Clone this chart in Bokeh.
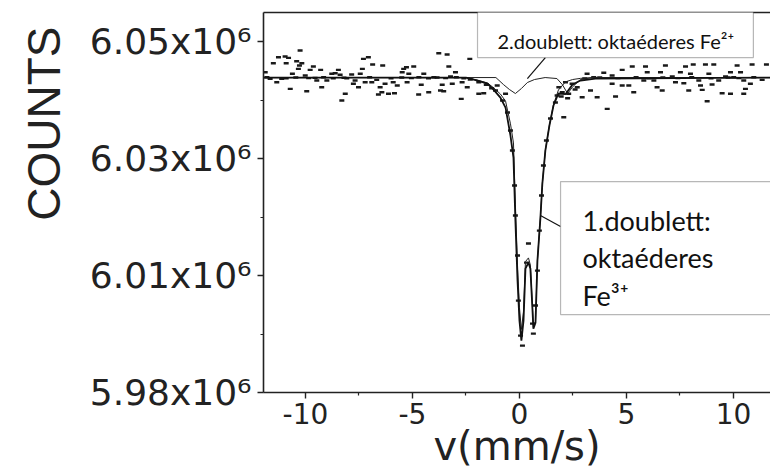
from bokeh.plotting import figure
from bokeh.models import Range1d, FixedTicker, LinearAxis, BoxAnnotation, Label, Title
from bokeh.embed import file_html
from bokeh.resources import INLINE

# ---- measured spectrum points (velocity mm/s, counts) ----
data_v = [
    -10.25, -11.26, -10.95, -10.79, -11.50, -10.90, -10.41, -10.28, -10.17, -10.33,
    -9.63, -9.78, -9.29, -8.46, -8.77, -8.61, -10.61, -10.01, -8.38, -7.84,
    -7.44, -7.29, -7.06, -6.86, -6.39, -7.34, -11.88, -11.65, -11.34, -11.11,
    -9.47, -9.00, -9.55, -8.07, -7.68, -7.76, -7.52, -7.21, -6.90, -6.67,
    -6.28, -6.51, -6.43, -6.12, -6.59, -10.71, -9.94, -9.24, -8.14, -8.30,
    -3.77, -3.38, -2.32, -5.41, -5.28, -4.94, -5.48, -3.30, -2.99, -5.17,
    -4.47, -4.00, -3.22, -5.90, -5.71, -5.25, -4.59, -3.61, -3.14, -2.68,
    -2.44, -1.90, -5.84, -4.71, -4.24, -3.69, -3.54, -2.72, -1.90, -1.67,
    -1.04, -0.65,
    5.27, 4.80, 3.16, 3.94, 4.33, 3.47, 2.15, 2.46, 1.84, 2.70,
    2.00, 2.30, 1.76, 2.93, 3.63, 4.33, 4.80, 5.11, 5.34, 4.49,
    4.10, 3.32, 2.07,
    5.89, 6.82, 7.76, 8.12, 8.69, 9.08, 10.17, 10.87, 5.97, 6.59,
    7.52, 7.99, 8.85, 9.86, 10.33, 7.14, 9.63, 10.01, 5.81, 6.28,
    7.29, 7.68, 8.38, 9.31, 10.48, 10.79, 11.34, 6.43, 6.67, 7.91,
    8.46, 8.54, 9.00, 9.47, 9.86, 10.56, 10.48, 8.77, 11.54,
    -11.80, -10.90, -10.45, -9.85, -9.15, -8.70, -8.20, -7.00, -6.00, -5.50,
    -5.05, -4.70, -4.25, -3.85, -3.45, -2.95, -2.60, -2.30, 3.05, 3.75,
    4.60, 5.45, 6.05, 6.70, 7.40, 8.05, 8.95, 9.75, 10.25, 10.95,
    -1.55, -1.30, -1.12, -0.79, -0.56, -0.42, -0.33, -0.23, -0.19, -0.09,
    -0.05, 0.05, 0.14, 0.42, 0.33, 0.61, 0.65, 0.75, 0.84, 0.93,
    1.03, 1.12, 1.26, 1.45, 1.68, 1.95, 2.25, 2.60,
]
data_counts = [
    6048460, 6047320, 6047440, 6047210, 6046290, 6046290, 6046630, 6045900, 6046290, 6045330,
    6045730, 6045160, 6045160, 6045160, 6044480, 6044580, 6044480, 6044190, 6044310, 6044360,
    6044480, 6047040, 6047320, 6046070, 6045900, 6045330, 6044750, 6043620, 6043040, 6043620,
    6043330, 6043330, 6043790, 6043720, 6043330, 6042770, 6042190, 6043040, 6043040, 6043450,
    6042770, 6042190, 6041330, 6041060, 6040940, 6041910, 6041500, 6042190, 6041060, 6039910,
    6048000, 6047780, 6047040, 6045330, 6045610, 6045730, 6044750, 6045730, 6044750, 6044480,
    6044480, 6043900, 6044020, 6043040, 6042480, 6043040, 6042600, 6042600, 6042770, 6043040,
    6042190, 6043040, 6041160, 6040940, 6041330, 6041620, 6041500, 6040200, 6041060, 6041160,
    6042480, 6041060,
    6045730, 6045160, 6044480, 6044650, 6044190, 6043900, 6043040, 6042770, 6042190, 6042190,
    6041330, 6041060, 6040770, 6040480, 6040480, 6042770, 6042480, 6042480, 6041330, 6040600,
    6038490, 6041620, 6037060,
    6045730, 6045900, 6045730, 6046070, 6046070, 6046070, 6045900, 6046070, 6044750, 6044750,
    6044750, 6044480, 6044480, 6044750, 6044750, 6044020, 6044020, 6043900, 6043330, 6043330,
    6043040, 6042870, 6043330, 6043330, 6043330, 6042770, 6043450, 6042190, 6041620, 6041620,
    6042480, 6041740, 6042650, 6041160, 6041060, 6041910, 6041060, 6039790, 6046070,
    6043900, 6043700, 6043850, 6043750, 6043900, 6043700, 6043800, 6043900, 6043700, 6043850,
    6043750, 6043900, 6043700, 6043850, 6043750, 6043900, 6043700, 6043500, 6043700, 6043850,
    6043750, 6043900, 6043700, 6043850, 6043750, 6043900, 6043700, 6043850, 6043750, 6043900,
    6042600, 6042000, 6041620, 6039910, 6037860, 6034780, 6031360, 6025380, 6020250, 6013410,
    6005710, 5999730, 5998020, 6015460, 6012210, 6001780, 6000070, 6004860, 6010840, 6017680,
    6023670, 6028800, 6033070, 6036830, 6039570, 6040600, 6040300, 6041800,
]

# ---- fitted curves ----
fit_v = [-11.96, -2.50, -1.96, -1.50, -1.21, -0.89, -0.65, -0.42, -0.28, -0.19,
         -0.09, 0.00, 0.09, 0.19, 0.28, 0.42, 0.51, 0.61, 0.65, 0.75,
         0.84, 0.98, 1.07, 1.21, 1.40, 1.59, 1.82, 2.15, 2.48, 2.85,
         3.55, 11.73]
fit_total = [6043840, 6043840, 6043330, 6042820, 6041790, 6040420, 6038710, 6033930, 6030160, 6019390,
             6009130, 6002290, 5998870, 6002290, 6011180, 6012210, 6011180, 6004000, 6000920, 6001950,
             6012550, 6019900, 6025720, 6031360, 6035640, 6039060, 6041110, 6041000, 6042650, 6043330,
             6043670, 6043840]
fit_fe3 = [6043840, 6043840, 6043400, 6042920, 6042100, 6041020, 6039810, 6035930, 6032660, 6022090,
           6011630, 6004490, 6000770, 6003790, 6012380, 6013010, 6011780, 6004400, 6001270, 6002150,
           6012650, 6020000, 6025800, 6031400, 6035700, 6039200, 6041710, 6043100, 6043500, 6043700,
           6043840, 6043840]
fe2_v = [-11.96, -1.10, -0.75, -0.47, -0.19, 0.09, 0.37, 0.70, 1.20, 1.75,
         2.00, 2.25, 2.50, 2.85, 3.40, 11.73]
fe2_counts = [6043840, 6043840, 6042650, 6041800, 6041110, 6041960, 6042990, 6043500, 6043840, 6043670,
              6042650, 6041110, 6042310, 6043500, 6043840, 6043840]

# ---- axes ----
x_ticks = [-10, -5, 0, 5, 10]
x_tick_labels = ["-10", "-5", "0", "5", "10"]
x_minor = [-7.5, -2.5, 2.5, 7.5]
y_ticks = [5990000, 6010000, 6030000, 6050000]
y_minor = [6000000, 6020000, 6040000]
y_tick_labels = ["5.98x10\u2076", "6.01x10\u2076", "6.03x10\u2076", "6.05x10\u2076"]

AX = "#222222"
p = figure(width=770, height=476, output_backend="svg", toolbar_location=None,
           x_range=Range1d(-11.96, 11.73), y_range=Range1d(5990000, 6054960),
           min_border_left=263, min_border_right=0, min_border_top=12, min_border_bottom=84)
p.grid.visible = False
p.outline_line_color = None
p.background_fill_color = "white"

xa = p.xaxis[0]
xa.ticker = FixedTicker(ticks=x_ticks, minor_ticks=x_minor)
xa.major_label_overrides = dict(zip(x_ticks, x_tick_labels))
xa.axis_label = "v(mm/s)"
xa.axis_label_text_font = "DejaVu Sans"
xa.axis_label_text_font_style = "normal"
xa.axis_label_text_font_size = "40px"
xa.axis_label_text_color = AX
xa.axis_label_standoff = -4
xa.major_label_text_font = "DejaVu Sans"
xa.major_label_text_font_size = "28px"
xa.major_label_text_color = AX
xa.major_label_standoff = 4

ya = p.yaxis[0]
ya.ticker = FixedTicker(ticks=y_ticks, minor_ticks=y_minor)
ya.major_label_overrides = dict(zip(y_ticks, y_tick_labels))
ya.major_label_text_font = "DejaVu Sans"
ya.major_label_text_font_size = "36px"
ya.major_label_text_color = AX
ya.major_label_standoff = 6

for ax in (xa, ya):
    ax.axis_line_color = AX
    ax.axis_line_width = 1.6
    ax.major_tick_line_color = AX
    ax.minor_tick_line_color = AX
    ax.major_tick_line_width = 1.4
    ax.minor_tick_line_width = 1.2
    ax.major_tick_in = 0
    ax.minor_tick_in = 0
    ax.major_tick_out = 6
    ax.minor_tick_out = 3

top = LinearAxis(ticker=FixedTicker(ticks=[]), major_label_text_font_size="0px",
                 major_tick_out=0, major_tick_in=0, minor_tick_out=0, minor_tick_in=0,
                 major_label_standoff=0, axis_line_color=AX, axis_line_width=1.6)
p.add_layout(top, "above")

y_title = Title(text="COUNTS", align="right", offset=14, standoff=30, vertical_align="top",
                text_font="Liberation Sans", text_font_size="46px",
                text_font_style="normal", text_color=AX)
p.add_layout(y_title, "left")

# ---- data and fits ----
p.scatter(data_v, data_counts, marker="dash", size=5, line_width=2.4, line_color="#1a1a1a")
p.line(fe2_v, fe2_counts, line_width=1.0, line_color="#222222")
p.line(fit_v, fit_fe3, line_width=1.0, line_color="#222222")
p.line(fit_v, fit_total, line_width=1.8, line_color="#111111")

# ---- annotations ----
p.segment(x0=[0.37, 0.98], y0=[6043670, 6020250], x1=[1.21, 1.92], y1=[6047260, 6018365],
          line_color="#111111", line_width=1.2)

box_style = dict(fill_color="white", fill_alpha=1.0, line_color="#111111", line_width=1.2)
p.add_layout(BoxAnnotation(left=-1.96, right=10.93, bottom=6047260, top=6055470, **box_style))
p.add_layout(BoxAnnotation(left=1.92, right=12.8, bottom=6003320, top=6026060, **box_style))

lab_font = "Lato"
p.add_layout(Label(x=-1.03, y=6050170, text="2.doublett: oktaéderes Fe\u00b2\u207a",
                   text_font=lab_font, text_font_size="20px", text_color="#111111",
                   text_baseline="alphabetic"))
for txt, yy in [("1.doublett:", 6019390), ("oktaéderes", 6013060), ("Fe\u00b3\u207a", 6006570)]:
    p.add_layout(Label(x=2.94, y=yy, text=txt, text_font=lab_font, text_font_size="27px",
                       text_color="#111111", text_baseline="alphabetic"))

open("out.html", "w").write(file_html(p, INLINE))
